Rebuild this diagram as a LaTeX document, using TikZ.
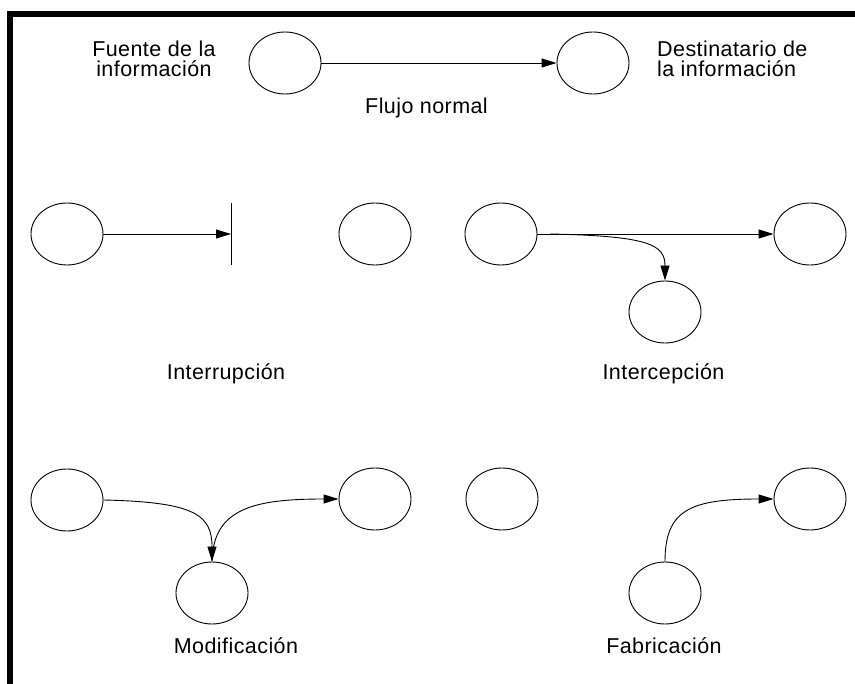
\documentclass[tikz,border=0pt]{standalone}
\usepackage{fontspec}
\setmainfont[LetterSpace=2]{Liberation Sans}
\usetikzlibrary{shapes.geometric,arrows.meta}
\begin{document}
\begin{tikzpicture}[x=1pt,y=-1pt,
  party/.style={draw,ellipse,line width=0.9pt,minimum width=72pt,minimum height=62pt,inner sep=0pt},
  flow/.style={line width=0.9pt,-{Triangle[length=15pt,width=9pt]}},
  lbl/.style={font=\fontsize{21.5}{20.5}\selectfont,inner sep=0pt,anchor=base},
  frame/.style={line width=6pt}]
\useasboundingbox (0,0) rectangle (855,684);
\draw[frame] (7,14) -- (855,14);
\draw[frame] (10,11) -- (10,684);
% Flujo normal
\node[party] (src) at (285,63) {};
\node[party] (dst) at (593,63) {};
\draw[flow] (src.east) -- (dst.west);
\node[lbl,align=center] (tsrc) at (154,77) {Fuente de la\\información};
\node[lbl,align=left,anchor=base west] (tdst) at (657,77) {Destinatario de\\la información};
\node[lbl] (tflujo) at (426.5,114) {Flujo normal};
% Interrupcion
\node[party] (ia) at (67,234) {};
\node[party] (ib) at (375,234) {};
\coordinate (barT) at (231,203);
\coordinate (barB) at (231,265);
\coordinate (barM) at (231,234);
\draw[line width=1pt] (barT) -- (barB);
\draw[flow] (ia.east) -- (barM);
\node[lbl] (tint) at (226,380) {Interrupción};
% Intercepcion
\node[party] (pa) at (501,234) {};
\node[party] (pb) at (810,234) {};
\node[party] (pc) at (665,312) {};
\draw[flow] (pa.east) -- (pb.west);
\coordinate (pbr) at (550,234);
\draw[flow] (pbr) .. controls (650,236) and (665,245) .. (pc.north);
\node[lbl] (tinc) at (663.5,380) {Intercepción};
% Modificacion
\node[party] (ma) at (67,500) {};
\node[party] (mb) at (375,499) {};
\node[party] (mc) at (212,593) {};
\draw[flow] (ma.east) .. controls (195,502) and (212,515) .. (mc.north);
\draw[flow] (mc.north) .. controls (213,508) and (255,499) .. (mb.west);
\node[lbl] (tmod) at (236,653) {Modificación};
% Fabricacion
\node[party] (fa) at (502,499) {};
\node[party] (fb) at (810,499) {};
\node[party] (fc) at (665,593) {};
\draw[flow] (fc.north) .. controls (665,510) and (690,499) .. (fb.west);
\node[lbl] (tfab) at (664,653) {Fabricación};
\end{tikzpicture}
\end{document}
